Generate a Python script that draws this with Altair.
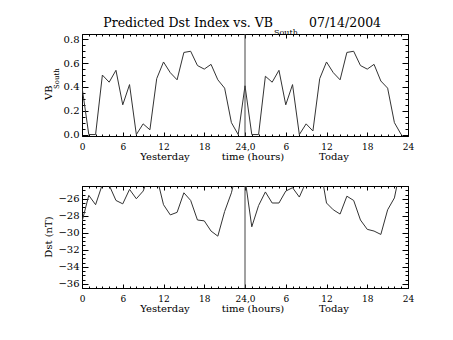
import altair as alt
import pandas as pd

# ---------------- data ----------------
hours = list(range(48))
vb_yesterday = [0.40, 0.0, 0.0, 0.50, 0.44, 0.54, 0.25, 0.42, 0.0, 0.09, 0.04, 0.47,
                0.61, 0.52, 0.46, 0.69, 0.70, 0.58, 0.55, 0.59, 0.46, 0.39, 0.10, 0.0]
vb_today = [0.41, 0.0, 0.0, 0.49, 0.44, 0.54, 0.25, 0.42, 0.0, 0.09, 0.03, 0.47,
            0.61, 0.52, 0.46, 0.69, 0.70, 0.58, 0.55, 0.59, 0.45, 0.39, 0.10, 0.0]
dst_yesterday = [-28.7, -25.6, -26.7, -24.3, -24.4, -26.2, -26.6, -24.9, -26.0, -25.1, -23.1, -23.4,
                 -26.7, -27.9, -27.6, -25.3, -26.2, -28.5, -28.6, -29.8, -30.4, -27.5, -25.3, -22.0]
dst_today = [-23.6, -29.3, -26.8, -25.2, -26.5, -26.5, -25.1, -24.7, -25.8, -24.0, -22.5, -21.9,
             -26.5, -27.3, -27.8, -25.7, -26.2, -28.5, -29.6, -29.8, -30.2, -27.3, -25.9, -22.0]
day_boundary = [24]

x_major = [0, 6, 12, 18, 24, 30, 36, 42, 48]
x_labels = ["0", "6", "12", "18", "24,0", "6", "12", "18", "24"]
x_minor = list(range(0, 49))

vb_major = [0.0, 0.2, 0.4, 0.6, 0.8]
vb_minor = [0.0, 0.05, 0.1, 0.15, 0.2, 0.25, 0.3, 0.35, 0.4, 0.45, 0.5, 0.55, 0.6, 0.65, 0.7, 0.75, 0.8]
dst_major = [-36, -34, -32, -30, -28, -26]
dst_minor = [-36.5, -36, -35.5, -35, -34.5, -34, -33.5, -33, -32.5, -32, -31.5, -31, -30.5, -30,
             -29.5, -29, -28.5, -28, -27.5, -27, -26.5, -26, -25.5, -25, -24.5]

title_main = "Predicted Dst Index vs. VB"
title_sub = "South"
title_date = "07/14/2004"

df_vb = pd.DataFrame({"hour": hours, "value": vb_yesterday + vb_today})
df_dst = pd.DataFrame({"hour": hours, "value": dst_yesterday + dst_today})
df_day = pd.DataFrame({"hour": day_boundary})

# ---------------- layout ----------------
W, H = 326, 102
GAP = 50
FONT = "DejaVu Serif"
INK = "black"

label_expr = " : ".join(f"datum.value == {v} ? '{l}'" for v, l in zip(x_major, x_labels)) + " : ''"


def tick_axis(orient, offset, values, size):
    return alt.Axis(orient=orient, offset=offset, values=values, tickSize=size,
                    labels=False, domain=False, grid=False, title=None, ticks=True,
                    tickColor=INK, tickWidth=1)


def text(label, x, y, size, angle=0, align="center", baseline="alphabetic"):
    return alt.Chart(pd.DataFrame({"t": [label]})).mark_text(
        x=x, y=y, fontSize=size, font=FONT, color=INK, angle=angle,
        align=align, baseline=baseline
    ).encode(text="t:N")


def panel(df, ydom, y_major, y_minor, y_fmt, extra_texts):
    xs = alt.Scale(domain=[0, 48], nice=False, zero=False)
    ys = alt.Scale(domain=ydom, nice=False, zero=False)

    def layer(xaxis, yaxis, visible=False):
        if visible:
            m = alt.Chart(df).mark_line(color="#333333", strokeWidth=1, clip=True)
        else:
            m = alt.Chart(df).mark_line(strokeOpacity=0)
        return m.encode(
            x=alt.X("hour:Q", scale=xs, axis=xaxis),
            y=alt.Y("value:Q", scale=ys, axis=yaxis),
        )

    x_lab = alt.Axis(orient="bottom", values=x_major, labelExpr=label_expr, ticks=False,
                     tickSize=0, domain=False, grid=False, title=None, labelPadding=6,
                     labelFont=FONT, labelFontSize=9, labelColor=INK,
                     labelFlush=False, labelOverlap=False)
    y_lab = alt.Axis(orient="left", values=y_major, format=y_fmt, ticks=False, tickSize=0,
                     domain=False, grid=False, title=None, labelPadding=3,
                     labelFont=FONT, labelFontSize=10, labelColor=INK,
                     labelFlush=False, labelOverlap=False)

    layers = [
        layer(x_lab, y_lab, visible=True),
        # inward ticks on bottom edge / left edge
        layer(tick_axis("top", -H, x_minor, 2), tick_axis("right", -W, y_minor, 3)),
        layer(tick_axis("top", -H, x_major, 4), tick_axis("right", -W, y_major, 6)),
        # inward ticks on top edge / right edge
        layer(tick_axis("bottom", -H, x_minor, 2), tick_axis("left", -W, y_minor, 3)),
        layer(tick_axis("bottom", -H, x_major, 4), tick_axis("left", -W, y_major, 6)),
        alt.Chart(df_day).mark_rule(color="#444444", strokeWidth=1).encode(
            x=alt.X("hour:Q", scale=xs, axis=None)),
        text("Yesterday", 83, 126, 10),
        text("time (hours)", 171, 126, 10),
        text("Today", 252, 126, 10),
    ] + extra_texts
    return alt.layer(*layers).resolve_axis(x="independent", y="independent").properties(
        width=W, height=H)


top_texts = [
    text(title_main, 191, -7, 12.5, align="right"),
    text(title_sub, 192, 1, 8, align="left"),
    text(title_date, 227, -7, 12.5, align="left"),
    text("VB", -30, 66, 10, angle=270, align="left"),
    text(title_sub, -23, 55, 7, angle=270, align="left"),
]
bottom_texts = [
    text("Dst (nT)", -33, 51, 10, angle=270, align="center", baseline="middle"),
]

top = panel(df_vb, [-0.012, 0.845], vb_major, vb_minor, ".1f", top_texts)
bottom = panel(df_dst, [-36.5, -24.5], dst_major, dst_minor, "d", bottom_texts)

# Vega reports the concat's width as the panel width and its height as 0,
# so the padding fills the rest of the 453x340 window.
chart = alt.vconcat(top, bottom, spacing=GAP, bounds="flush").properties(
    autosize=alt.AutoSizeParams(type="none"),
    padding={"left": 82, "top": 34, "right": 453 - 82 - W, "bottom": 340 - 34},
    background="white",
).configure_view(stroke=INK, strokeWidth=1).configure_axis(grid=False)

chart.save("out.html", embed_options={"renderer": "svg", "actions": False})
